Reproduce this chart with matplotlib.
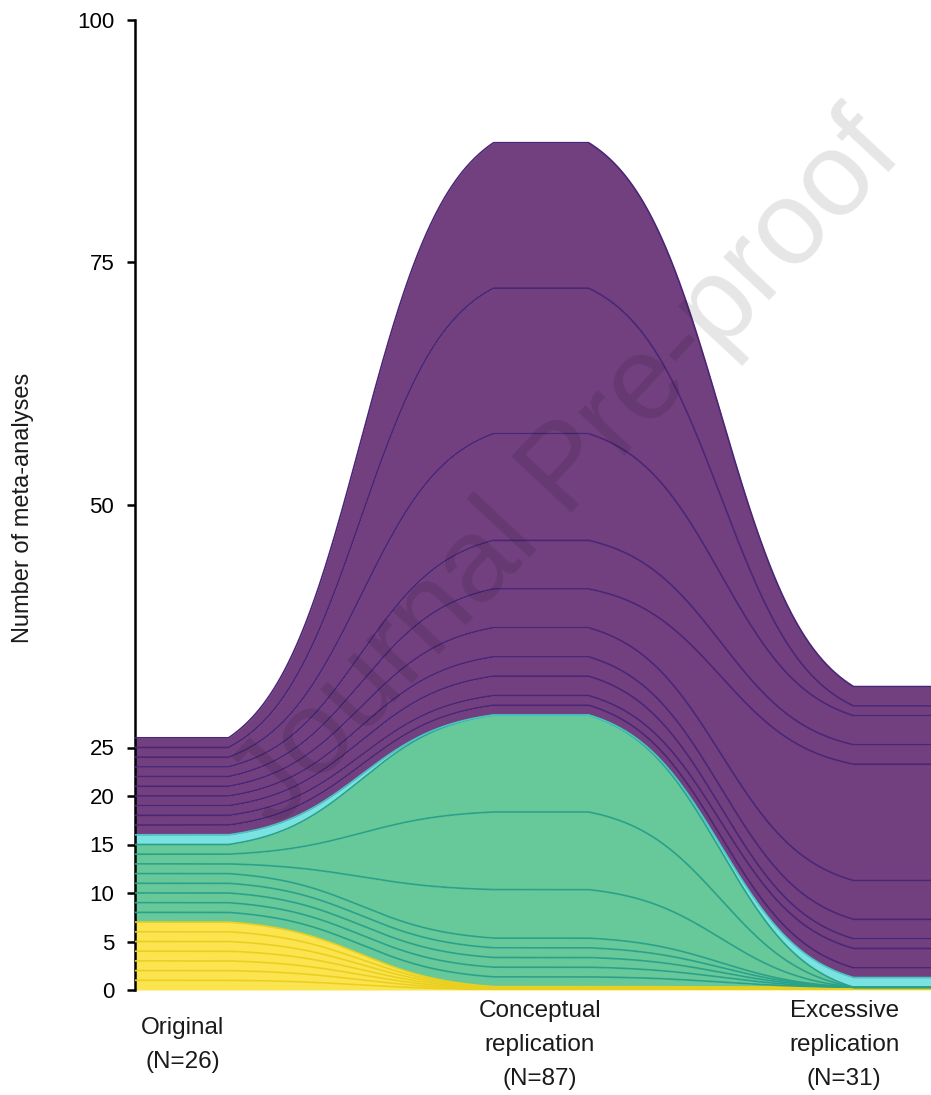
import numpy as np
import matplotlib.pyplot as plt
from matplotlib.transforms import blended_transform_factory

plt.rcParams['font.family'] = ['Liberation Sans', 'DejaVu Sans']

# stages
stage_labels = ["Original\n(N=26)", "Conceptual\nreplication\n(N=87)", "Excessive\nreplication\n(N=31)"]

# each ribbon = one original meta-analysis: (original, conceptual, excessive)
yellow = [(1, 0.05, 0.04), (1, 0.05, 0.04), (1, 0.05, 0.04), (1, 0.05, 0.04),
          (1, 0.05, 0.04), (1, 0.05, 0.04), (1, 0.05, 0.04)]
green = [(1, 1, 0), (1, 1, 0), (1, 1, 0), (1, 1, 0),
         (1, 1, 0), (1, 5, 0), (1, 8, 0), (1, 10, 0)]
cyan = [(1, 0, 1)]
purple = [(1, 1, 1), (1, 1, 2), (1, 2, 1), (1, 2, 2), (1, 3, 4),
          (1, 4, 12), (1, 5, 2), (1, 11, 3), (1, 15, 1), (1, 15, 2)]

yticks = [0, 5, 10, 15, 20, 25, 50, 75, 100]

groups = [
    (yellow, '#fbe44f', '#ead01e'),
    (green, '#67c89a', '#2aa189'),
    (cyan, '#7ae2e1', '#47c6c6'),
    (purple, '#72407f', '#4b2676'),
]

centers = np.array([0.0, 1.0, 2.0])
half = 0.132
xs = np.linspace(-0.13, 2.09, 900)


def smooth(vals, x, k=6.0):
    y = np.full_like(x, float(vals[0]))
    s0 = 1 / (1 + np.exp(k * 0.5))
    s1 = 1 / (1 + np.exp(-k * 0.5))
    for i in range(len(vals) - 1):
        a = centers[i] + half
        b = centers[i + 1] - half
        t = np.clip((x - a) / (b - a), 0, 1)
        s = (1 / (1 + np.exp(-k * (t - 0.5))) - s0) / (s1 - s0)
        m = x > a
        y[m] = vals[i] + (vals[i + 1] - vals[i]) * s[m]
    return y


fig = plt.figure(figsize=(9.31, 10.95), dpi=100)
ax = fig.add_axes([135 / 931, 1 - 990 / 1095, 1 - 135 / 931, 970 / 1095])

base = np.zeros(3)
lines = []
for rows, fc, ec in groups:
    for r in rows:
        top = base + np.array(r, dtype=float)
        lo = smooth(base, xs)
        hi = smooth(top, xs)
        ax.fill_between(xs, lo, hi, color=fc, lw=0, zorder=2)
        lines.append((hi, ec))
        base = top

for hi, ec in lines:
    ax.plot(xs, hi, color=ec, lw=1.2, zorder=3)

ax.set_xlim(-0.128, 2.083)
ax.set_ylim(0, 100)
ax.set_yticks(yticks)
ax.set_xticks([])
for s in ['top', 'right', 'bottom']:
    ax.spines[s].set_visible(False)
ax.spines['left'].set_linewidth(1.8)
ax.tick_params(axis='y', length=6, width=1.8, pad=9, labelsize=16, colors='black')

trans = blended_transform_factory(ax.transData, fig.transFigure)
for lx, lab in zip([0.005, 0.997, 1.842], stage_labels):
    ax.text(lx, 1 - 1045 / 1095, lab, transform=trans, ha='center', va='center',
            fontsize=17.5, color='#1a1a1a', linespacing=1.68, clip_on=False)

fig.text(23 / 931, 1 - 508 / 1095, "Number of meta-analyses", rotation=90,
         ha='center', va='center', fontsize=17, color='#1a1a1a')

fig.text(568 / 931, 1 - 472 / 1095, "Journal Pre-proof", rotation=47,
         ha='center', va='center', fontsize=86, color='black', alpha=0.1, zorder=10)

fig.savefig('out.png', dpi=100)
